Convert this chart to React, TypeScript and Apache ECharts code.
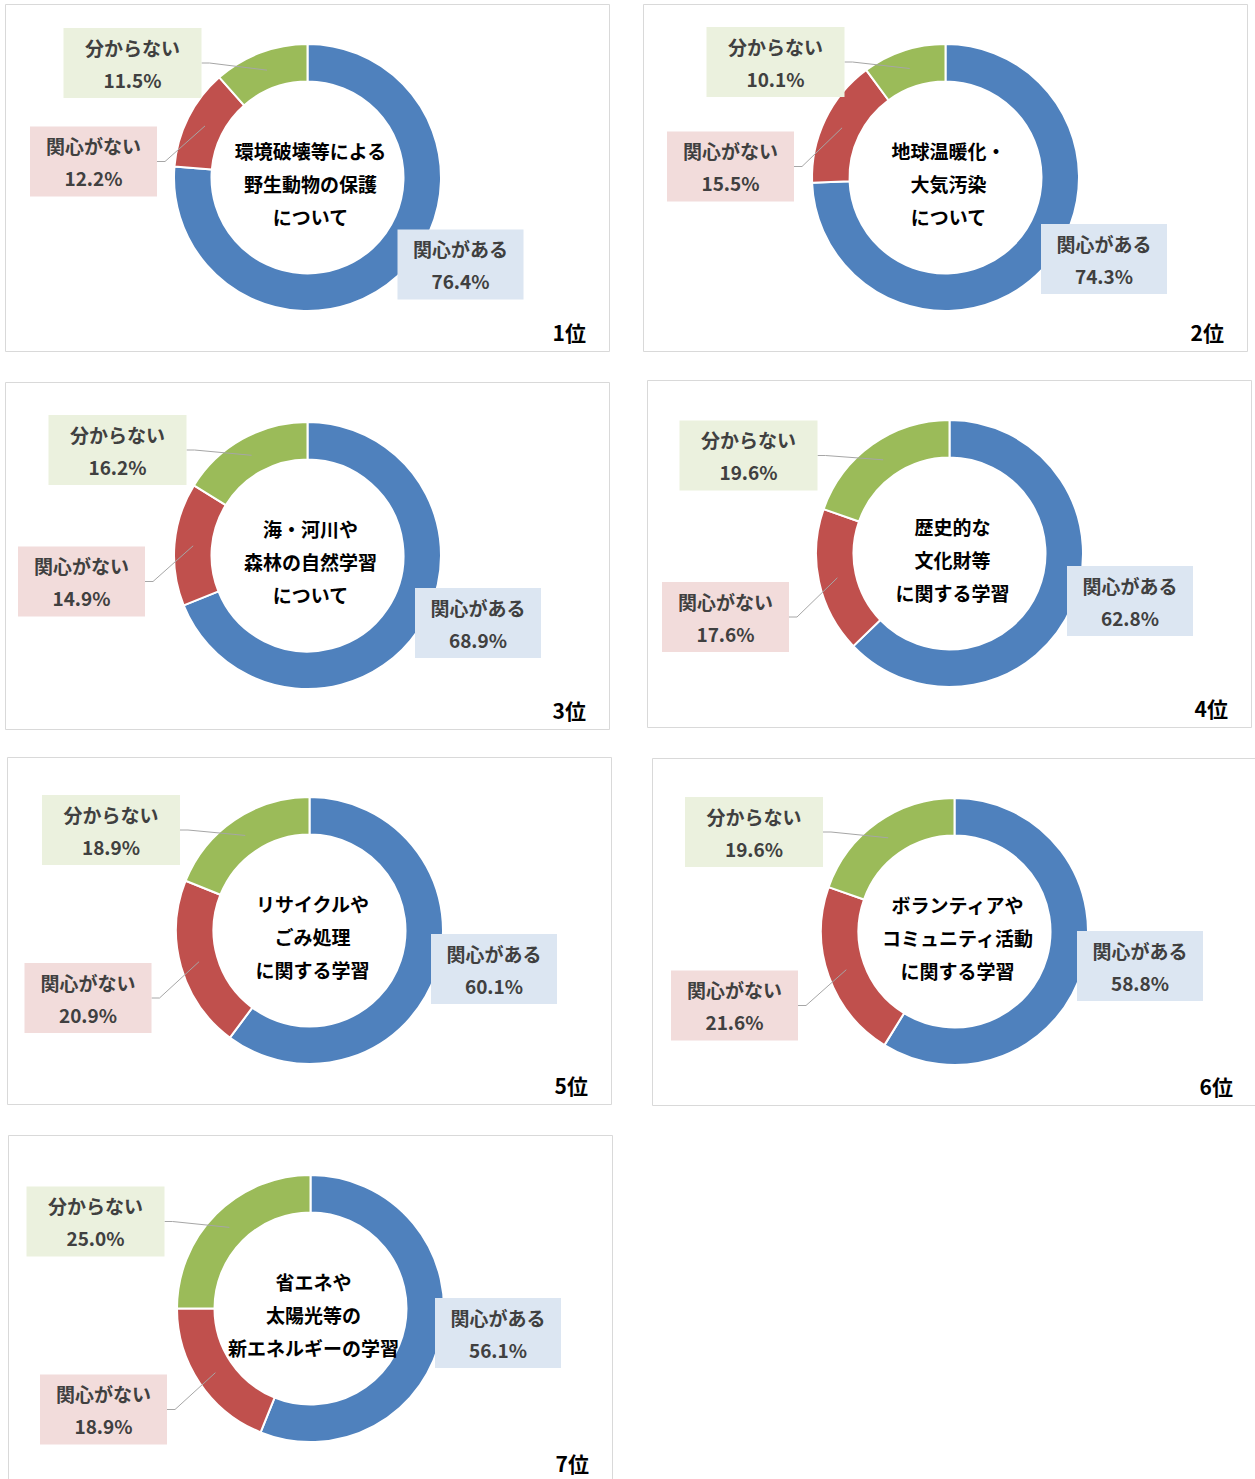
import React, { useEffect, useRef } from "react";
import * as echarts from "echarts";

const categories = ["関心がある", "関心がない", "分からない"];
const rankLabels = ["1位", "2位", "3位", "4位", "5位", "6位", "7位"];
const titles = [
  ["環境破壊等による", "野生動物の保護", "について"],
  ["地球温暖化・", "大気汚染", "について"],
  ["海・河川や", "森林の自然学習", "について"],
  ["歴史的な", "文化財等", "に関する学習"],
  ["リサイクルや", "ごみ処理", "に関する学習"],
  ["ボランティアや", "コミュニティ活動", "に関する学習"],
  ["省エネや", "太陽光等の", "新エネルギーの学習"],
];
const interested = [76.4, 74.3, 68.9, 62.8, 60.1, 58.8, 56.1];
const notInterested = [12.2, 15.5, 14.9, 17.6, 20.9, 21.6, 18.9];
const unknown = [11.5, 10.1, 16.2, 19.6, 18.9, 19.6, 25.0];

// layout (not data)
const panelOrigins = [
  [5, 4], [643, 4], [5, 382], [647, 380], [7, 757], [652, 758], [8, 1135],
];
const PANEL_W = 604;
const PANEL_H = 347;
const PIE_CX = 302.5;
const PIE_CY = 173.5;
const R_IN = 96;
const R_OUT = 133.5;
// label box centres relative to panel origin: [interested, notInterested, unknown]
const labelCenters = [
  [[455.5, 260.5], [88.5, 157.5], [127.5, 59]],
  [[461, 255], [87.5, 162.5], [132.5, 58]],
  [[473, 241], [76.5, 199.5], [112.5, 68]],
  [[483, 221], [78.5, 237], [101.5, 75.5]],
  [[487, 212], [81, 241], [104, 73]],
  [[488, 208], [82.5, 247.5], [102, 74]],
  [[490, 198], [95.5, 274.5], [87.5, 86.5]],
];
const sliceColors = ["#4f81bd", "#c0504d", "#9bbb59"];
const labelBg = ["#dce6f2", "#f2dcdb", "#ebf1de"];
const boxW = [126, 127, 138];
const FONT = "'Noto Sans CJK JP', 'Noto Sans', sans-serif";

export default function App() {
  const ref = useRef<HTMLDivElement>(null);
  useEffect(() => {
    if (!ref.current) return;
    const chart = echarts.init(ref.current, null, { renderer: "svg" });
    const seriesValues = interested.map((v, i) => [v, notInterested[i], unknown[i]]);

    const series: any[] = [];
    seriesValues.forEach((vals, p) => {
      const [ox, oy] = panelOrigins[p];
      const common = {
        type: "pie",
        center: [ox + PIE_CX, oy + PIE_CY],
        radius: [R_IN, R_OUT],
        startAngle: 90,
        clockwise: true,
        avoidLabelOverlap: false,
        silent: true,
      };
      // visible ring
      series.push({
        ...common,
        name: "ring" + (p + 1),
        z: 2,
        itemStyle: { borderColor: "#ffffff", borderWidth: 2 },
        label: { show: false },
        labelLine: { show: false },
        data: vals.map((v, i) => ({
          name: categories[i],
          value: v,
          itemStyle: { color: sliceColors[i] },
        })),
      });
      // overlay carrying labels and leader lines (drawn above the ring)
      series.push({
        ...common,
        name: "labels" + (p + 1),
        z: 3,
        itemStyle: { color: "rgba(0,0,0,0)", borderWidth: 0, opacity: 1 },
        label: {
          show: true,
          position: "outside",
          formatter: (prm: any) => prm.name + "\n" + Number(prm.value).toFixed(1) + "%",
          color: "#404040",
          fontFamily: FONT,
          fontSize: 19,
          fontWeight: "bold",
          lineHeight: 32,
          overflow: "none",
          opacity: 1,
        },
        labelLine: {
          show: true,
          smooth: false,
          lineStyle: { color: "#a6a6a6", width: 1, opacity: 1 },
        },
        labelLayout: (params: any) => {
          const di = params.dataIndex;
          const [lcx, lcy] = labelCenters[p][di];
          const x = ox + lcx;
          const y = oy + lcy;
          const total = vals.reduce((a, b) => a + b, 0);
          let cum = 0;
          for (let k = 0; k < di; k++) cum += vals[k];
          const mid = ((cum + vals[di] / 2) / total) * Math.PI * 2;
          const rm = (R_IN + R_OUT) / 2;
          const px = ox + PIE_CX + rm * Math.sin(mid);
          const py = oy + PIE_CY - rm * Math.cos(mid);
          const edge = x + boxW[di] / 2;
          return {
            x,
            y,
            align: "center",
            verticalAlign: "middle",
            labelLinePoints: [[px, py], [edge + 8, y], [edge, y]],
          };
        },
        data: vals.map((v, i) => ({
          name: categories[i],
          value: v,
          label: {
            backgroundColor: labelBg[i],
            width: boxW[i] - 26,
            padding: [3, 13],
          },
          labelLine: { show: i !== 0 },
        })),
      });
    });

    const graphics: any[] = [];
    panelOrigins.forEach(([ox, oy], p) => {
      graphics.push({
        type: "rect",
        z: -1,
        shape: { x: ox + 0.5, y: oy + 0.5, width: PANEL_W, height: PANEL_H },
        style: { fill: "#ffffff", stroke: "#d9d9d9", lineWidth: 1 },
      });
      graphics.push({
        type: "text",
        z: 10,
        x: ox + PIE_CX + 3,
        y: oy + PIE_CY + 6,
        style: {
          text: titles[p].join("\n"),
          align: "center",
          verticalAlign: "middle",
          fontFamily: FONT,
          fontSize: 19,
          fontWeight: "bold",
          lineHeight: 33,
          fill: "#000000",
        },
      });
      graphics.push({
        type: "text",
        z: 10,
        x: ox + 581,
        y: oy + 328,
        style: {
          text: rankLabels[p],
          align: "right",
          verticalAlign: "middle",
          fontFamily: FONT,
          fontSize: 21,
          fontWeight: "bold",
          fill: "#000000",
        },
      });
    });

    chart.setOption({
      animation: false,
      backgroundColor: "#ffffff",
      graphic: { elements: graphics },
      series,
    });
    return () => chart.dispose();
  }, []);
  return (
    <div
      ref={ref}
      style={{ position: "absolute", left: 0, top: 0, width: 1255, height: 1479 }}
    />
  );
}
